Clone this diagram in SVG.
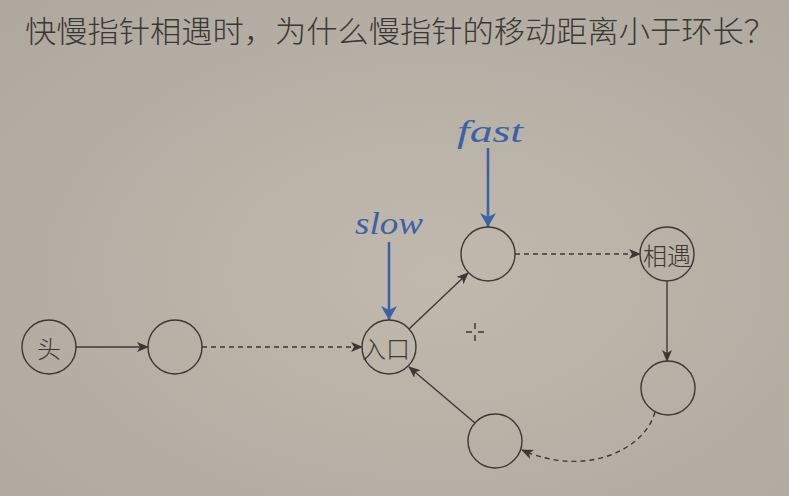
<svg xmlns="http://www.w3.org/2000/svg" width="789" height="496" viewBox="0 0 789 496">
  <defs>
    <radialGradient id="bg" cx="0.55" cy="0.55" r="0.75">
      <stop offset="0" stop-color="#c1b9ae"/>
      <stop offset="1" stop-color="#aea89e"/>
    </radialGradient>
    <marker id="arr" viewBox="0 0 12 10" refX="11" refY="5" markerWidth="12" markerHeight="10" markerUnits="userSpaceOnUse" orient="auto">
      <path d="M0,0 L12,5 L0,10 L3,5 Z" fill="#3d3833"/>
    </marker>
    <marker id="barr" viewBox="0 0 14 16" refX="14" refY="8" markerWidth="14" markerHeight="16" markerUnits="userSpaceOnUse" orient="auto">
      <path d="M0,0 L14,8 L0,16 L4,8 Z" fill="#3b62a6"/>
    </marker>
  </defs>
  <style>
    .node circle { fill: none; stroke: #3d3833; stroke-width: 1.4; }
    .node text { font-family: "Noto Sans CJK SC", "Noto Sans", sans-serif; font-weight: 300; font-size: 24px; fill: #3d3833; text-anchor: middle; dominant-baseline: central; }
    .edge { fill: none; stroke: #3d3833; stroke-width: 1.4; marker-end: url(#arr); }
    .dash { stroke-dasharray: 5 4; }
    .ptr { stroke: #3b62a6; stroke-width: 2.6; fill: none; marker-end: url(#barr); }
    .ptrlabel { font-family: "Liberation Serif", "DejaVu Serif", serif; font-style: italic; font-size: 32px; fill: #3b62a6; }
    .title { font-family: "Noto Sans CJK SC", sans-serif; font-weight: 300; font-size: 30px; fill: #3a3835; }
  </style>

  <rect width="789" height="496" fill="url(#bg)"/>

  <text class="title" x="25" y="42" textLength="750" lengthAdjust="spacingAndGlyphs">快慢指针相遇时，为什么慢指针的移动距离小于环长？</text>

  <g id="connectors">
    <line class="edge" x1="76" y1="347" x2="148" y2="347"/>
    <line class="edge dash" x1="202" y1="347" x2="362" y2="347"/>
    <line class="edge" x1="409" y1="329" x2="468" y2="273"/>
    <line class="edge dash" x1="515" y1="254" x2="640" y2="254"/>
    <line class="edge" x1="667" y1="281" x2="667" y2="361"/>
    <path class="edge dash" d="M655,412 C645,450 585,478 522,450"/>
    <line class="edge" x1="475" y1="423" x2="409" y2="367"/>
  </g>

  <g id="pointers">
    <line class="ptr" x1="389" y1="242" x2="389" y2="320"/>
    <text class="ptrlabel" x="355" y="234" textLength="68" lengthAdjust="spacingAndGlyphs">slow</text>
    <line class="ptr" x1="488" y1="148" x2="488" y2="227"/>
    <text class="ptrlabel" x="457" y="142" textLength="66" lengthAdjust="spacingAndGlyphs">fast</text>
  </g>

  <g id="head" class="node"><circle cx="49" cy="347" r="27"/><text x="49" y="347">头</text></g>
  <g id="n1" class="node"><circle cx="175" cy="347" r="27"/></g>
  <g id="entry" class="node"><circle cx="389" cy="347" r="27"/><text x="386" y="347">入口</text></g>
  <g id="n2" class="node"><circle cx="488" cy="254" r="27"/></g>
  <g id="meet" class="node"><circle cx="667" cy="254" r="27"/><text x="667" y="254">相遇</text></g>
  <g id="n3" class="node"><circle cx="668" cy="388" r="27"/></g>
  <g id="n4" class="node"><circle cx="495" cy="441" r="27"/></g>

  <!-- pointer crosshair -->
  <g id="cursor" stroke="#1a1a1a" stroke-width="1.2">
    <line x1="475" y1="323" x2="475" y2="329"/>
    <line x1="475" y1="335" x2="475" y2="341"/>
    <line x1="466" y1="332" x2="472" y2="332"/>
    <line x1="478" y1="332" x2="484" y2="332"/>
  </g>
</svg>
